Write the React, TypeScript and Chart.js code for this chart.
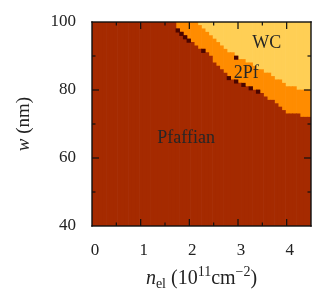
import { useEffect, useRef } from 'react';
import { Chart, registerables } from 'chart.js';
Chart.register(...registerables);

// grid columns (n_el centres, 10^11 cm^-2)
const nCols = [
  0.0375, 0.1125, 0.1875, 0.2625, 0.3375, 0.4125, 0.4875, 0.5625, 0.6375, 0.7125,
  0.7875, 0.8625, 0.9375, 1.0125, 1.0875, 1.1625, 1.2375, 1.3125, 1.3875, 1.4625,
  1.5375, 1.6125, 1.6875, 1.7625, 1.8375, 1.9125, 1.9875, 2.0625, 2.1375, 2.2125,
  2.2875, 2.3625, 2.4375, 2.5125, 2.5875, 2.6625, 2.7375, 2.8125, 2.8875, 2.9625,
  3.0375, 3.1125, 3.1875, 3.2625, 3.3375, 3.4125, 3.4875, 3.5625, 3.6375, 3.7125,
  3.7875, 3.8625, 3.9375, 4.0125, 4.0875, 4.1625, 4.2375, 4.3125, 4.3875, 4.4625,
];
// upper w (nm) of the Pfaffian phase in each column
const pfTop = [
  100, 100, 100, 100, 100, 100, 100, 100, 100, 100,
  100, 100, 100, 100, 100, 100, 100, 100, 100, 100,
  100, 100, 100, 98, 97, 96, 95, 94, 93, 92,
  92, 91, 90, 88, 87, 86, 85, 83, 83, 82,
  82, 81, 81, 80, 80, 80, 79, 78, 77, 77,
  76, 75, 74, 73, 73, 73, 73, 72, 72, 72,
];
// upper w (nm) of the 2Pf phase in each column (WC above)
const pf2Top = [
  100, 100, 100, 100, 100, 100, 100, 100, 100, 100,
  100, 100, 100, 100, 100, 100, 100, 100, 100, 100,
  100, 100, 100, 100, 100, 100, 100, 100, 100, 99,
  98, 97, 96, 95, 94, 93, 92, 91, 91, 90,
  89, 89, 88, 88, 87, 86, 86, 85, 85, 84,
  83, 83, 82, 81, 81, 81, 80, 80, 80, 80,
];
// isolated dark cells on the boundaries
const dotN = [1.7625, 1.8375, 1.9125, 1.9875, 2.2875, 2.8125, 2.9625, 3.1125, 3.2625, 3.4125, 2.9625];
const dotW = [97, 96, 95, 94, 91, 83, 82, 81, 80, 79, 89];

const regionNames = ['WC', '2Pf', 'Pfaffian'];
const regionN = [3.59, 3.17, 1.935];
const regionW = [92.3, 83.4, 64.4];

const xMajor = [1, 2, 3, 4];
const xMinor = [0.5, 1.5, 2.5, 3.5];
const yMajor = [60, 80];
const yMinor = [50, 70, 90];

const C_PF = '#A52A00';
const C_2PF = '#FF8C00';
const C_WC = '#FFCF55';
const C_DOT = '#4A0500';
const SERIF = '"Liberation Serif", "DejaVu Serif", serif';

const decor = {
  id: 'decor',
  afterDraw(chart: any) {
    const { ctx, chartArea: a, scales } = chart;
    const xs = scales.x, ys = scales.y;
    ctx.save();
    ctx.fillStyle = '#111';
    const MJ = 7, MN = 3.5, T = 1.2;
    for (const v of [...xMajor, ...xMinor]) {
      const L = xMajor.includes(v) ? MJ : MN;
      const px = xs.getPixelForValue(v);
      ctx.fillRect(px - T / 2, a.bottom - L, T, L);
      ctx.fillRect(px - T / 2, a.top, T, L);
    }
    for (const v of [...yMajor, ...yMinor]) {
      const L = yMajor.includes(v) ? MJ : MN;
      const py = ys.getPixelForValue(v);
      ctx.fillRect(a.left, py - T / 2, L, T);
      ctx.fillRect(a.right - L, py - T / 2, L, T);
    }
    const B = 1.4;
    ctx.fillRect(a.left - B / 2, a.top - B / 2, a.right - a.left + B, B);
    ctx.fillRect(a.left - B / 2, a.bottom - B / 2, a.right - a.left + B, B);
    ctx.fillRect(a.left - B / 2, a.top - B / 2, B, a.bottom - a.top + B);
    ctx.fillRect(a.right - B / 2, a.top - B / 2, B, a.bottom - a.top + B);

    // region labels
    ctx.fillStyle = '#262626';
    ctx.font = `18px ${SERIF}`;
    ctx.textAlign = 'center';
    ctx.textBaseline = 'alphabetic';
    regionNames.forEach((t, i) => {
      ctx.fillText(t, xs.getPixelForValue(regionN[i]), ys.getPixelForValue(regionW[i]));
    });

    // x title: n_el (10^11 cm^-2)
    const segs: [string, string, number][] = [
      ['n', `italic 20px ${SERIF}`, 0],
      ['el', `14px ${SERIF}`, 4],
      [' (10', `20px ${SERIF}`, 0],
      ['11', `14px ${SERIF}`, -8],
      ['cm', `20px ${SERIF}`, 0],
      ['\u22122', `14px ${SERIF}`, -8],
      [')', `20px ${SERIF}`, 0],
    ];
    ctx.fillStyle = '#222';
    ctx.textAlign = 'left';
    let total = 0;
    for (const s of segs) { ctx.font = s[1]; total += ctx.measureText(s[0]).width; }
    let cx = (a.left + a.right) / 2 - total / 2;
    const by = 284;
    for (const s of segs) {
      ctx.font = s[1];
      ctx.fillText(s[0], cx, by + s[2]);
      cx += ctx.measureText(s[0]).width;
    }

    // y title: w (nm)
    ctx.translate(29, (a.top + a.bottom) / 2);
    ctx.rotate(-Math.PI / 2);
    const ys2: [string, string][] = [['w', `italic 19px ${SERIF}`], [' (nm)', `19px ${SERIF}`]];
    let tw = 0;
    for (const s of ys2) { ctx.font = s[1]; tw += ctx.measureText(s[0]).width; }
    let yx = -tw / 2;
    for (const s of ys2) {
      ctx.font = s[1];
      ctx.fillText(s[0], yx, 0);
      yx += ctx.measureText(s[0]).width;
    }
    ctx.restore();
  },
};

export default function App() {
  const ref = useRef<HTMLCanvasElement>(null);
  useEffect(() => {
    if (!ref.current) return;
    const common = { grouped: false, barPercentage: 1, categoryPercentage: 1, borderWidth: 0 };
    const chart = new Chart(ref.current, {
      type: 'bar',
      data: {
        datasets: [
          { ...common, label: 'dots', backgroundColor: C_DOT, data: dotN.map((n, i) => ({ x: n, y: [dotW[i], dotW[i] + 1] })) },
          { ...common, label: 'Pfaffian', backgroundColor: C_PF, data: nCols.map((n, i) => ({ x: n, y: [40, pfTop[i]] })) },
          { ...common, label: '2Pf', backgroundColor: C_2PF, data: nCols.map((n, i) => ({ x: n, y: [pfTop[i], pf2Top[i]] })) },
          { ...common, label: 'WC', backgroundColor: C_WC, data: nCols.map((n, i) => ({ x: n, y: [pf2Top[i], 100] })) },
        ] as any,
      },
      options: {
        responsive: false,
        animation: false,
        layout: { padding: { top: 22, right: 16, left: 0, bottom: 0 } },
        plugins: { legend: { display: false }, tooltip: { enabled: false } },
        scales: {
          x: {
            type: 'linear', min: 0, max: 4.5, offset: false,
            grid: { display: false, drawTicks: false, offset: false }, border: { display: false },
            ticks: { stepSize: 1, includeBounds: false, padding: 14, labelOffset: 3, maxRotation: 0, color: '#222', font: { family: SERIF, size: 17 } },
            afterFit: (s: any) => { s.height = 78; s.paddingLeft = 0; s.paddingRight = 0; },
          },
          y: {
            type: 'linear', min: 40, max: 100,
            grid: { display: false, drawTicks: false }, border: { display: false },
            ticks: { stepSize: 20, padding: 16, color: '#222', font: { family: SERIF, size: 17 } },
            afterFit: (s: any) => { s.width = 92; s.paddingTop = 0; s.paddingBottom = 0; },
          },
        },
      } as any,
      plugins: [decor],
    });
    return () => chart.destroy();
  }, []);
  return (
    <div style={{ position: 'fixed', left: 0, top: 0, width: 327, height: 304, background: '#fff' }}>
      <canvas ref={ref} width={327} height={304} />
    </div>
  );
}
